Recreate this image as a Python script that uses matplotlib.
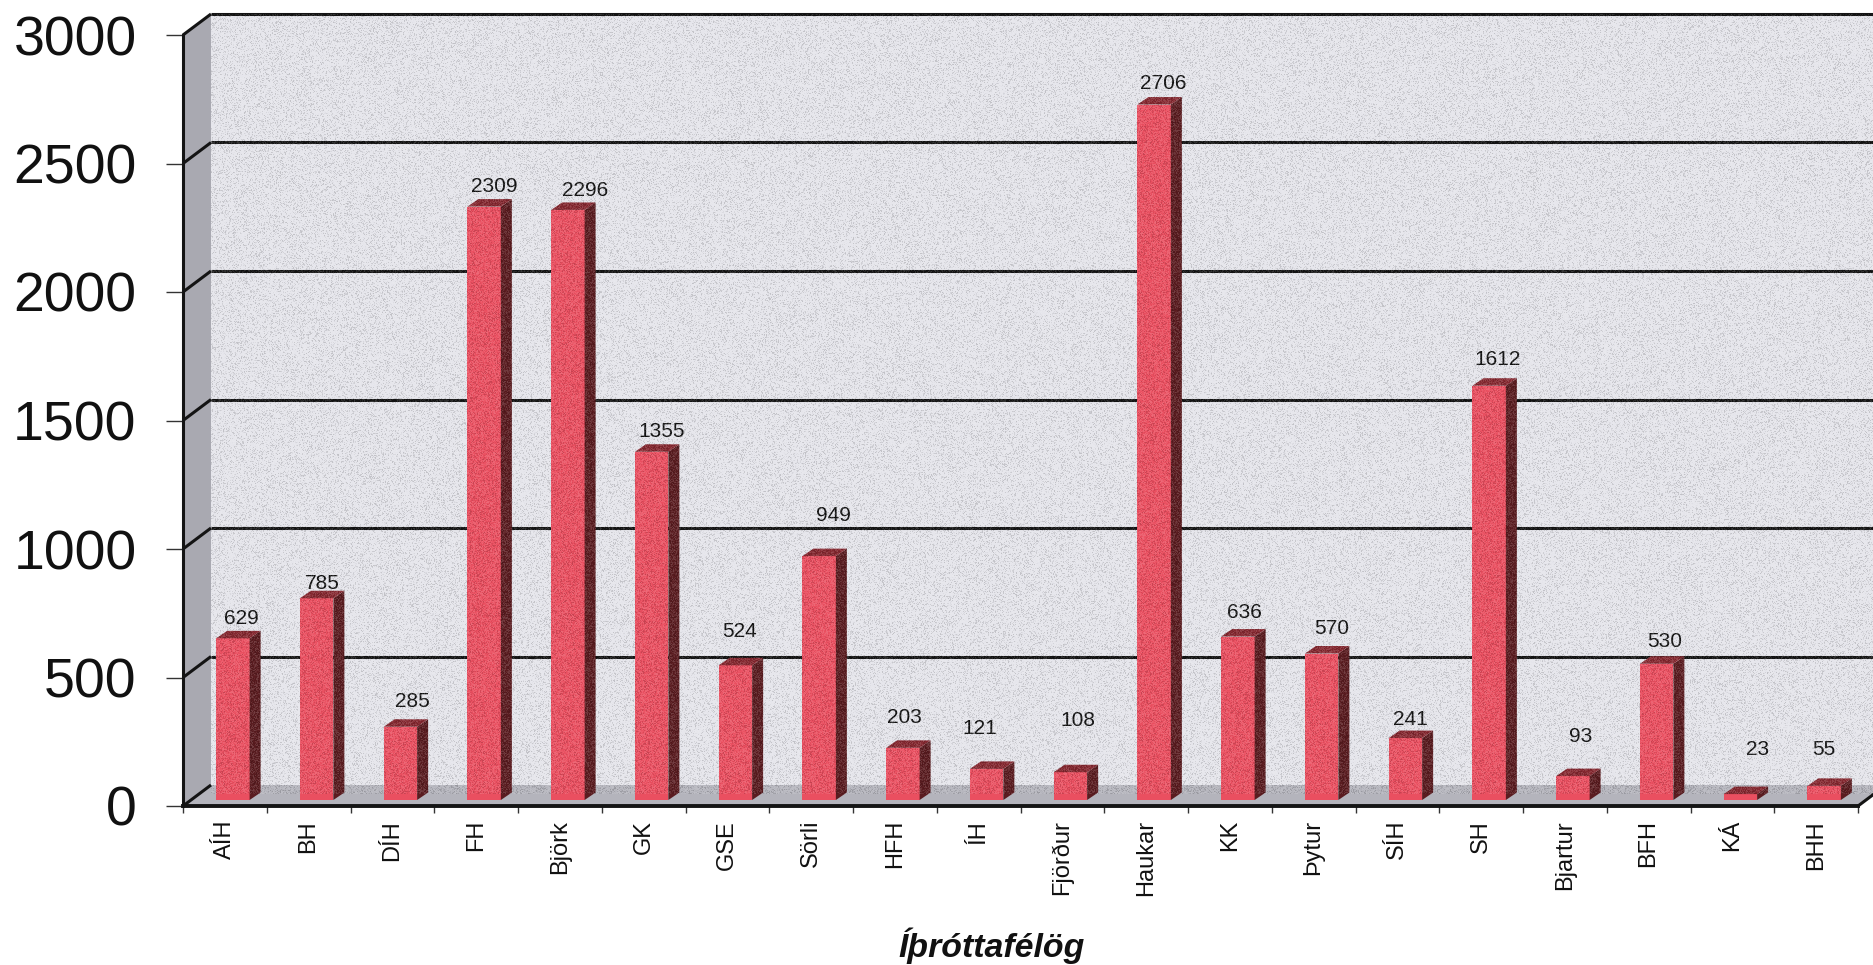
import matplotlib
matplotlib.use("Agg")
import matplotlib.pyplot as plt
from matplotlib.patches import Polygon
import numpy as np

plt.rcParams['font.family'] = ['Liberation Sans', 'DejaVu Sans']

clubs = ["AÍH", "BH", "DÍH", "FH", "Björk", "GK", "GSE", "Sörli", "HFH", "ÍH",
         "Fjörður", "Haukar", "KK", "Þytur", "SÍH", "SH", "Bjartur", "BFH", "KÁ", "BHH"]
members = [629, 785, 285, 2309, 2296, 1355, 524, 949, 203, 121,
           108, 2706, 636, 570, 241, 1612, 93, 530, 23, 55]
y_ticks = [0, 500, 1000, 1500, 2000, 2500, 3000]

# hand placed value labels, pixels from the top middle of each bar
label_dx = [9, 6, 12, 10, 17, 10, 4, 14, 2, -7, 7, 9, 7, 10, 5, 8, 8, 8, 17, 0]
label_dy = [20, 15, 25, 20, 19, 20, 34, 41, 30, 40, 52, 21, 24, 25, 19, 26, 40, 22, 45, 36]

W, H = 1874, 965
fig = plt.figure(figsize=(W / 100, H / 100), dpi=100)
ax = fig.add_axes([183 / W, (H - 806) / H, 1675 / W, 771 / H])
ax.set_xlim(-0.5, 19.5)
ax.set_ylim(0, 3000)
ax.patch.set_visible(False)

# pixel sizes of the fake 3d depth, turned into data units
px_x = 20 / 1675
px_y = 3000 / 771
wall_dx, wall_dy = 28 * px_x, 21 * px_y
bar_shift, bar_base = 8 * px_x, 6 * px_y
bar_w = 33.5 * px_x
side_dx, side_dy = 11 * px_x, 7.5 * px_y
x_end = 19.5 + 16 * px_x

left, right = -0.5, 19.5


def poly(points, color, z):
    ax.add_patch(Polygon(points, closed=True, fc=color, ec="none", zorder=z, clip_on=False))


def line(xs, ys, lw=2.2, z=2):
    ax.plot(xs, ys, color="#141414", lw=lw, zorder=z, clip_on=False, solid_capstyle="butt")


# walls and floor
poly([(left + wall_dx, wall_dy), (x_end, wall_dy), (x_end, 3000 + wall_dy), (left + wall_dx, 3000 + wall_dy)], "#e5e5eb", 1)
poly([(left, 0), (left + wall_dx, wall_dy), (left + wall_dx, 3000 + wall_dy), (left, 3000)], "#a9a9b1", 1)
poly([(left, 0), (right, 0), (x_end, 12 * px_y), (x_end, wall_dy), (left + wall_dx, wall_dy)], "#b4b4bc", 1)

for t in y_ticks:
    line([left, left + wall_dx], [t, t + wall_dy])
    if t > 0:
        line([left + wall_dx, x_end], [t + wall_dy, t + wall_dy])
line([right, x_end], [0, 12 * px_y])

# bars
xs = np.arange(len(clubs))
fronts = ax.bar(xs + bar_shift, members, width=bar_w, bottom=bar_base, color="#ea4f60", zorder=4, clip_on=False)
for b, v, dx, dy in zip(fronts, members, label_dx, label_dy):
    x0, x1 = b.get_x(), b.get_x() + b.get_width()
    top = bar_base + v
    poly([(x1, bar_base), (x1 + side_dx, bar_base + side_dy), (x1 + side_dx, top + side_dy), (x1, top)], "#5a1c20", 4)
    poly([(x0, top), (x1, top), (x1 + side_dx, top + side_dy), (x0 + side_dx, top + side_dy)], "#852830", 4)
    ax.annotate(str(v), xy=((x0 + x1) / 2, top), xytext=(dx * 0.72, dy * 0.72), textcoords="offset points",
                ha="center", va="center", fontsize=15, color="#111111", zorder=6, annotation_clip=False)

# axes
for name in ["top", "right"]:
    ax.spines[name].set_visible(False)
ax.spines["left"].set_color("#141414")
ax.spines["left"].set_linewidth(2.2)
ax.spines["left"].set_zorder(3)
ax.spines["bottom"].set_color("#141414")
ax.spines["bottom"].set_linewidth(2.8)
ax.spines["bottom"].set_zorder(5)

ax.set_yticks(y_ticks)
ax.tick_params(axis="y", length=12.5, width=1, color="#333333", labelsize=40, pad=21, labelcolor="#111111")
ax.set_xticks(np.arange(-0.5, 20, 1))
ax.set_xticklabels([])
ax.tick_params(axis="x", length=5, width=1, color="#333333")
ax.set_xticks(xs, minor=True)
ax.set_xticklabels(clubs, minor=True, rotation=90, fontsize=17, color="#111111")
ax.tick_params(axis="x", which="minor", length=0, pad=10)
ax.set_xlabel("Íþróttafélög", fontsize=24.4, fontweight="bold", fontstyle="italic", color="#111111")
ax.xaxis.set_label_coords((992 - 183) / 1675, -(946 - 806) / 771)
ax.xaxis.label.set_va("center")

# scanner grain over the plot area
rng = np.random.default_rng(3)
gw, gh = W - 211, 794 - 14
grain = np.zeros((gh, gw, 4))
grain[..., :3] = rng.choice([0.0, 1.0], size=(gh, gw, 1), p=[0.35, 0.65])
grain[..., 3] = rng.uniform(0.0, 0.16, size=(gh, gw))
fig.figimage(grain, xo=211, yo=H - 794, zorder=10, origin="upper")

fig.savefig("out.png", dpi=100, facecolor="white")
